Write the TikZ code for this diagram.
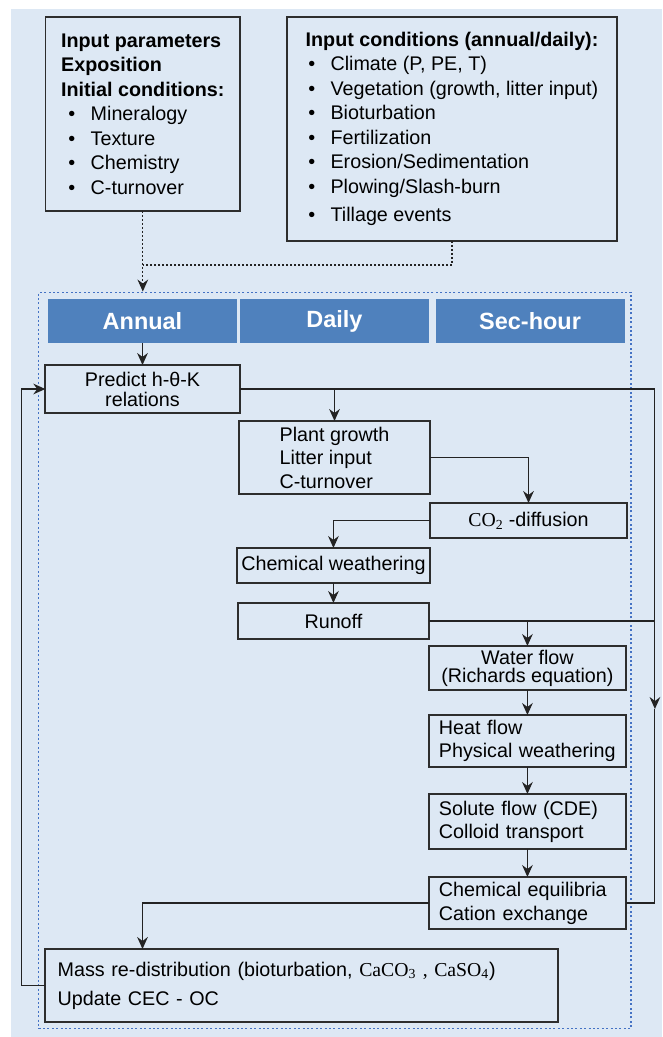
\documentclass[tikz,border=0pt]{standalone}
\usepackage{fontspec}
\setsansfont{Liberation Sans}
\newfontfamily\chemfont{Liberation Serif}
\usetikzlibrary{arrows.meta, positioning, calc, backgrounds, fit}
\definecolor{panelfill}{RGB}{221, 232, 244}
\definecolor{headerfill}{RGB}{79, 129, 189}
\definecolor{frameborder}{RGB}{68, 114, 196}
\definecolor{boxborder}{RGB}{45, 45, 45}
\definecolor{linkcolor}{RGB}{35, 35, 35}
\newcommand{\bulletitem}[1]{\hspace*{#1}\textbullet\hspace{11.5pt}}

\begin{document}
\begin{tikzpicture}[
    x=0.75pt, y=-0.75pt, % pixel grid, y downwards
    font=\sffamily\fontsize{14.8pt}{18.4pt}\selectfont,
    % Styles
    inputbox/.style={
        rectangle,
        draw=boxborder,
        line width=1.3pt,
        align=left,
        inner ysep=2pt,
        outer sep=0pt
    },
    headbar/.style={
        rectangle,
        fill=headerfill,
        text=white,
        minimum width=141.75pt,
        minimum height=33pt,
        outer sep=0pt,
        font=\sffamily\bfseries\fontsize{17.6pt}{20pt}\selectfont
    },
    procbox/.style={
        rectangle,
        draw=boxborder,
        line width=1.3pt,
        minimum width=#1,
        inner ysep=1pt,
        outer sep=0pt,
        align=center
    },
    leftbox/.style={
        align=left,
        text width=#1
    },
    linegap/.style={
        font=\sffamily\fontsize{14.8pt}{#1}\selectfont
    },
    arrow/.style={
        -{Stealth[length=9pt, width=8pt, inset=3pt]},
        line width=0.8pt,
        color=linkcolor
    },
    link/.style={
        line width=0.8pt,
        color=linkcolor
    },
    feed/.style={
        dash pattern=on 1.5pt off 1.5pt
    },
    framebox/.style={
        draw=frameborder,
        line width=1.2pt,
        dash pattern=on 1.5pt off 1.8pt,
        inner sep=5pt
    }
]

\useasboundingbox (0,0) rectangle (662,1037);
\begin{scope}[on background layer]
    \fill [panelfill] (11,9) rectangle (662,1037);
\end{scope}

% --- Inputs (Top) ---
\node (params) [inputbox, minimum width=145.8pt, minimum height=145.5pt] at (142.8,114) {
    \textbf{Input parameters}\\
    \textbf{Exposition}\\
    \textbf{Initial conditions:}\\
    \bulletitem{5.5pt}Mineralogy\\
    \bulletitem{5.5pt}Texture\\
    \bulletitem{5.5pt}Chemistry\\
    \bulletitem{5.5pt}C-turnover
};

\node (cond) [inputbox, minimum width=247.5pt, minimum height=168pt] at (452,129) {
    \textbf{Input conditions (annual/daily):}\\
    \bulletitem{2pt}Climate (P, PE, T)\\
    \bulletitem{2pt}Vegetation (growth, litter input)\\
    \bulletitem{2pt}Bioturbation\\
    \bulletitem{2pt}Fertilization\\
    \bulletitem{2pt}Erosion/Sedimentation\\
    \bulletitem{2pt}Plowing/Slash-burn\\[3pt]
    \bulletitem{2pt}Tillage events
};

% --- Time scales ---
\node (annual) [headbar] at (142.5,321) {Annual};
\node (daily) [headbar, right=2.25pt of annual] {Daily};
\node (sechour) [headbar, right=4.9pt of daily] {Sec-hour};

% --- Annual column ---
\node (predict) [procbox=145.8pt, minimum height=36pt, below=16.5pt of annual, linegap=15pt] {Predict h-θ-K\\relations};

% --- Daily / sec-hour steps ---
\node (plant) [procbox=143.25pt, minimum height=54.75pt, below=58.5pt of daily, align=left, linegap=17.6pt] {
    Plant growth\\
    Litter input\\
    C-turnover
};
\node (co2) [procbox=147.75pt, minimum height=26.25pt, below right=6.75pt and 0pt of plant] {{\chemfont CO\textsubscript{2}} -diffusion};
\node (chemw) [procbox=143.25pt, minimum height=26.25pt, below left=7.5pt and 0pt of co2] {Chemical weathering};
\node (runoff) [procbox=143.25pt, minimum height=27pt, below=15pt of chemw] {Runoff};
\node (water) [procbox=147.75pt, minimum height=33pt, below right=5.25pt and 0pt of runoff, linegap=13.5pt] {Water flow\\(Richards equation)};
\node (heat) [procbox=147.75pt, minimum height=39pt, below=18.75pt of water, leftbox=132.75pt, linegap=17.25pt] {
    Heat flow\\
    Physical weathering
};
\node (solute) [procbox=147.75pt, minimum height=41.25pt, below=20.25pt of heat, leftbox=132.75pt, linegap=17.25pt] {
    Solute flow (CDE)\\
    Colloid transport
};
\node (chemeq) [procbox=147.75pt, minimum height=39pt, below=21pt of solute, leftbox=132.75pt, linegap=18pt] {
    Chemical equilibria\\
    Cation exchange
};

% --- Redistribution (bottom) ---
\node (mass) [procbox=384.3pt, minimum height=54.75pt, anchor=north west, leftbox=365.7pt, linegap=21.75pt] at ($(predict.west |- chemeq.south)+(0pt,-15pt)$) {
    Mass re-distribution (bioturbation, {\chemfont CaCO\textsubscript{3} , CaSO\textsubscript{4}})\\
    Update CEC - OC
};

% --- Model frame ---
\begin{scope}[on background layer]
    \node (frame) [framebox, fit=(annual) (sechour) (mass)] {};
\end{scope}

% --- Helper points ---
\coordinate (merge) at ($(params.south)+(0pt,-40.5pt)$);
\coordinate (rail_bot) at ($(chemeq.east)+(21.75pt,0pt)$);
\coordinate (rail_tip) at ($(rail_bot |- water.south)+(0pt,-14.25pt)$);
\coordinate (loop) at ($(mass.west)+(-17.7pt,0pt)$);

% --- Connections ---

% Inputs into the model
\draw [arrow, feed] (params.south) -- (params.south |- frame.north);
\draw [link, feed] (cond.south) |- (merge);

% Main chain
\draw [arrow] (annual) -- (predict);
\draw [arrow] (predict.east -| plant.north) -- (plant.north);
\draw [arrow] (plant.east) -| (co2.north);
\draw [arrow] (co2.west) -| (chemw.north);
\draw [arrow] (chemw) -- (runoff);
\draw [arrow] (runoff.east -| water.north) -- (water.north);
\draw [arrow] (water) -- (heat);
\draw [arrow] (heat) -- (solute);
\draw [arrow] (solute) -- (chemeq);
\draw [arrow] (chemeq.west) -| (predict.south |- mass.north);

% Right rail
\draw [arrow] (predict.east) -| (rail_tip);
\draw [link] (rail_tip) -- (rail_bot) -- (chemeq.east);
\draw [link] (runoff.east) -- (runoff.east -| rail_bot);

% Feedback loop
\draw [arrow] (mass.west) -- (loop) |- (predict.west);

\end{tikzpicture}
\end{document}
